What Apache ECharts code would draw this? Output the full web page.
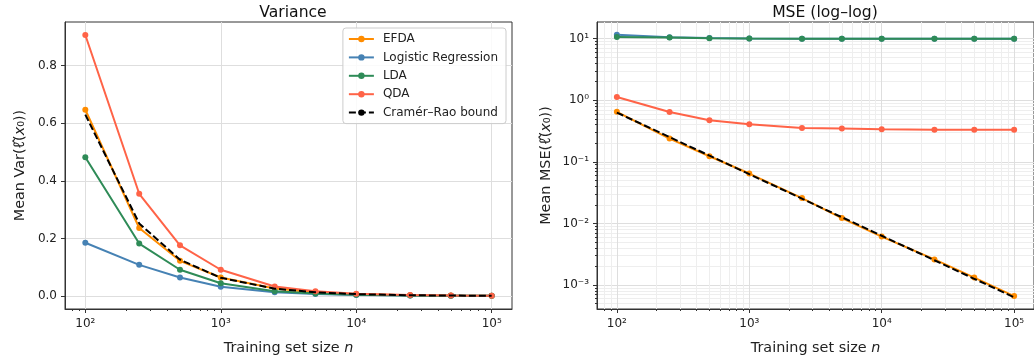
<!DOCTYPE html>
<html><head><meta charset="utf-8">
<script src="https://cdn.jsdelivr.net/npm/echarts@6/dist/echarts.min.js"></script>
<style>html,body{margin:0;padding:0;background:#fff}#c{width:1034px;height:362px}</style>
</head><body><div id="c"></div>
<script>
const sizes = [100, 250, 500, 1000, 2500, 5000, 10000, 25000, 50000, 100000];
// Variance panel
const varEFDA = [0.647, 0.236, 0.122, 0.064, 0.0255, 0.0122, 0.0061, 0.0025, 0.00128, 0.00064];
const varLR   = [0.185, 0.108, 0.064, 0.032, 0.0125, 0.0065, 0.0033, 0.0013, 0.0007, 0.0003];
const varLDA  = [0.482, 0.182, 0.091, 0.044, 0.016, 0.0085, 0.0045, 0.0018, 0.0009, 0.00045];
const varQDA  = [0.907, 0.355, 0.176, 0.091, 0.033, 0.016, 0.008, 0.0033, 0.0017, 0.0009];
const varCR   = [0.630, 0.252, 0.126, 0.063, 0.0252, 0.0126, 0.0063, 0.00252, 0.00126, 0.00063];
// MSE panel
const mseEFDA = [0.647, 0.238, 0.123, 0.0645, 0.0258, 0.0122, 0.0061, 0.0026, 0.00132, 0.00066];
const mseLR   = [11.6, 10.5, 10.2, 10.05, 10.0, 9.98, 9.97, 9.96, 9.95, 9.95];
const mseLDA  = [10.6, 10.4, 10.15, 10.05, 10.0, 9.98, 9.97, 9.96, 9.95, 9.95];
const mseQDA  = [1.13, 0.645, 0.473, 0.407, 0.355, 0.347, 0.339, 0.332, 0.331, 0.330];
const mseCR   = [0.630, 0.252, 0.126, 0.063, 0.0252, 0.0126, 0.0063, 0.00252, 0.00126, 0.00063];
// Tick values
const xTicks = [100, 1000, 10000, 100000];
const varTicks = [0, 0.2, 0.4, 0.6, 0.8];
const mseTicks = [0.001, 0.01, 0.1, 1, 10];

const names = ['EFDA', 'Logistic Regression', 'LDA', 'QDA', 'Cramér–Rao bound'];
const colors = ['#ff8c00', '#4682b4', '#2e8b57', '#ff6347', '#000000'];

const FONT = 'DejaVu Sans';
const SUP = {'0':'⁰','1':'¹','2':'²','3':'³','4':'⁴','5':'⁵','6':'⁶','7':'⁷','8':'⁸','9':'⁹','-':'⁻'};
function powLabel(v) {
  const e = Math.log10(v);
  const r = Math.round(e);
  if (Math.abs(e - r) > 1e-6) return '';
  return '10' + String(r).split('').map(c => SUP[c]).join('');
}
const pairs = arr => sizes.map((s, i) => [s, arr[i]]);

function mkSeries(arrs, xi, yi) {
  return arrs.map((a, k) => {
    const cr = k === 4;
    return {
      name: names[k], type: 'line', xAxisIndex: xi, yAxisIndex: yi,
      data: pairs(a), symbol: cr ? 'none' : 'circle', symbolSize: 6, showSymbol: !cr,
      lineStyle: { color: colors[k], width: 2, type: cr ? [7, 3] : 'solid' },
      itemStyle: { color: colors[k] },
      emphasis: { disabled: true }, animation: false, z: 2 + k
    };
  });
}

const richName = {
  t: { fontFamily: FONT, fontSize: 14.4, color: '#222' },
  h: { fontFamily: 'Noto Sans', fontSize: 14.4, color: '#222' },
  i: { fontFamily: FONT, fontSize: 14.4, fontStyle: 'italic', color: '#222' }
};
const axisLine = { show: true, onZero: false, lineStyle: { color: '#333', width: 1 } };

function xAxis(gi, minorGrid) {
  return {
    type: 'log', logBase: 10, gridIndex: gi, min: 70.8, max: 141254,
    axisLine: axisLine,
    axisTick: { show: true, inside: false, length: 4, lineStyle: { color: '#333' }, customValues: xTicks },
    name: '{t|Training set size }{i|n}', nameLocation: 'middle', nameGap: 32,
    nameTextStyle: { color: '#222', fontFamily: FONT, fontSize: 14.4, rich: richName },
    axisLabel: { color: '#222', fontFamily: FONT, fontSize: 12, margin: 9, formatter: powLabel, customValues: xTicks },
    minorTick: { show: true, splitNumber: 9, length: 2, lineStyle: { color: '#333' } },
    splitLine: { show: true, lineStyle: { color: '#dedede', width: 1 } },
    minorSplitLine: { show: minorGrid, lineStyle: { color: '#eeeeee', width: 1 } }
  };
}

const option = {
  animation: false,
  backgroundColor: '#fff',
  textStyle: { fontFamily: FONT },
  title: [
    { text: 'Variance', left: 288, top: 0, textAlign: 'center', textStyle: { fontFamily: FONT, fontSize: 15.6, fontWeight: 'normal', color: '#111' } },
    { text: 'MSE (log–log)', left: 820, top: 0, textAlign: 'center', textStyle: { fontFamily: FONT, fontSize: 15.6, fontWeight: 'normal', color: '#111' } }
  ],
  legend: {
    data: names, orient: 'vertical', right: 528, top: 28,
    itemWidth: 25, itemHeight: 8, itemGap: 4.4,
    padding: [4, 8, 4, 5], borderColor: '#cccccc', borderWidth: 1, borderRadius: 3,
    backgroundColor: 'rgba(255,255,255,0.85)',
    textStyle: { fontFamily: FONT, fontSize: 12, color: '#222', lineHeight: 14, padding: [0, 0, 0, 4] }
  },
  grid: [
    { left: 65, right: 522, top: 22, bottom: 53, show: true, borderColor: '#333', borderWidth: 1, backgroundColor: 'transparent' },
    { left: 597, right: -10, top: 22, bottom: 53, show: true, borderColor: '#333', borderWidth: 1, backgroundColor: 'transparent' }
  ],
  xAxis: [ xAxis(0, false), xAxis(1, true) ],
  yAxis: [
    {
      type: 'value', gridIndex: 0, min: -0.0454, max: 0.952, splitNumber: 5,
      axisLine: axisLine,
      axisTick: { show: true, inside: false, length: 4, lineStyle: { color: '#333' }, customValues: varTicks },
      name: '{t|Mean Var(}{h|ℓ̂}{t|(}{i|x}{t|₀))}', nameLocation: 'middle', nameGap: 38,
      nameTextStyle: { color: '#222', fontFamily: FONT, fontSize: 14.4, rich: richName },
      axisLabel: { color: '#222', fontFamily: FONT, fontSize: 12, margin: 8, customValues: varTicks,
        formatter: v => v.toFixed(1) },
      splitLine: { show: true, lineStyle: { color: '#dedede', width: 1 } }
    },
    {
      type: 'log', logBase: 10, gridIndex: 1, min: Math.pow(10, -3.39), max: Math.pow(10, 1.27),
      axisLine: axisLine,
      axisTick: { show: true, inside: false, length: 4, lineStyle: { color: '#333' }, customValues: mseTicks },
      name: '{t|Mean MSE(}{h|ℓ̂}{t|(}{i|x}{t|₀))}', nameLocation: 'middle', nameGap: 44,
      nameTextStyle: { color: '#222', fontFamily: FONT, fontSize: 14.4, rich: richName },
      axisLabel: { color: '#222', fontFamily: FONT, fontSize: 12, margin: 8, formatter: powLabel, customValues: mseTicks },
      minorTick: { show: true, splitNumber: 9, length: 2, lineStyle: { color: '#333' } },
      splitLine: { show: true, lineStyle: { color: '#dedede', width: 1 } },
      minorSplitLine: { show: true, lineStyle: { color: '#eeeeee', width: 1 } }
    }
  ],
  series: [].concat(
    mkSeries([varEFDA, varLR, varLDA, varQDA, varCR], 0, 0),
    mkSeries([mseEFDA, mseLR, mseLDA, mseQDA, mseCR], 1, 1)
  )
};
const chart = echarts.init(document.getElementById('c'), null, { renderer: 'canvas' });
chart.setOption(option);
</script></body></html>
